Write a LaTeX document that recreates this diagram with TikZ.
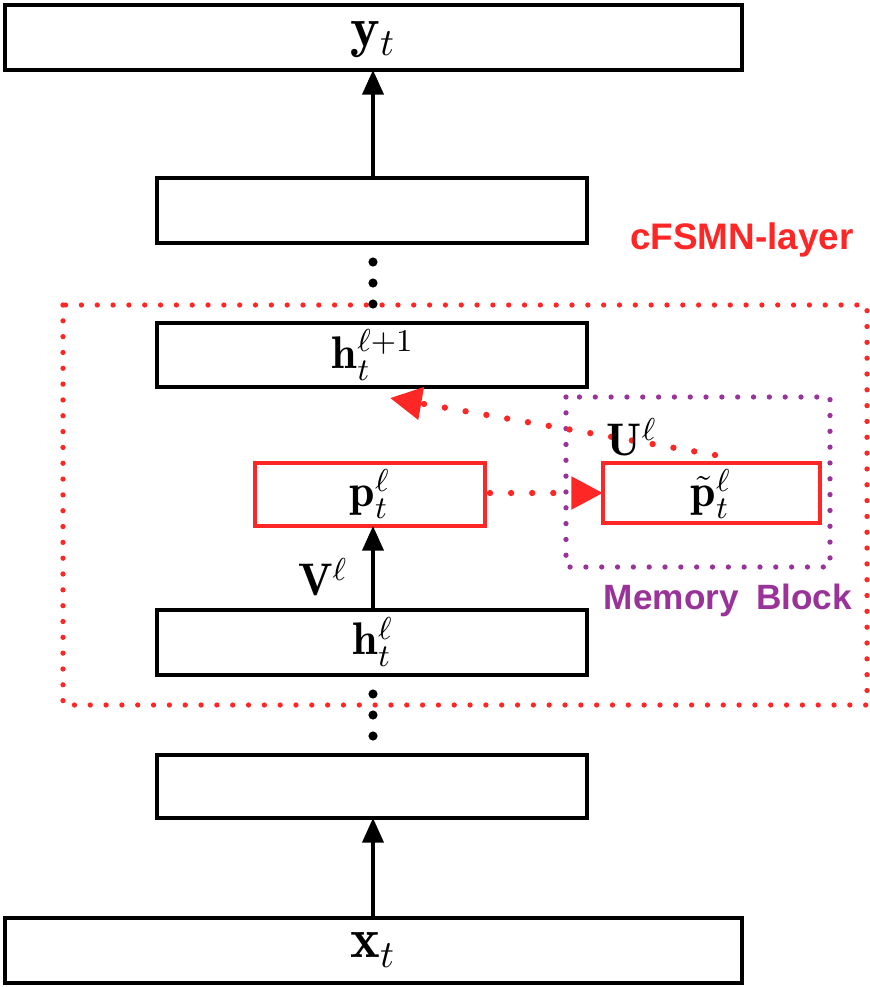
\documentclass[tikz,border=0pt]{standalone}
\usepackage{amsmath,amssymb,bm}
\usepackage{fontspec}
\newfontfamily\lsans{Liberation Sans}
\usetikzlibrary{arrows.meta}
\begin{document}
\begin{tikzpicture}[x=0.01cm,y=-0.01cm,
  box/.style={draw=black,line width=0.9pt},
  rbox/.style={draw=red!85!white,line width=0.9pt},
  lab/.style={font=\fontsize{13}{15}\selectfont,inner sep=0pt},
  big/.style={font=\fontsize{16}{18}\selectfont,inner sep=0pt},
  arr/.style={line width=1pt,-{Triangle[length=7pt,width=6pt]}},
  rdot/.style={red!85!white,line width=1.8pt,dash pattern=on 0pt off 6pt,line cap=round},
  rarr/.style={rdot,-{Triangle[length=9pt,width=9pt,line cap=butt,fill=red!85!white]}}]
\useasboundingbox (0,0) rectangle (870,987);
\draw[rdot,line width=1.5pt,dash pattern=on 0pt off 4.5pt] (63,305) rectangle (867,705);
\draw[violet!80!white,line width=1.5pt,line cap=round,dash pattern=on 0pt off 4.5pt] (566,397) rectangle (830,567);
\draw[box] (5,5) rectangle (742,70); \node[big] (y) at (373,40) {$\mathbf{y}_t$};
\draw[box] (157,178) rectangle (587,243); \coordinate (b2) at (373,178);
\draw[box] (157,323) rectangle (587,387); \node[lab] (h1) at (373,355) {$\mathbf{h}_t^{\ell+1}$};
\draw[rbox] (255,463) rectangle (485,526); \node[lab] (p) at (370,494) {$\mathbf{p}_t^{\ell}$};
\draw[rbox] (603,463) rectangle (820,523); \node[lab] (pt) at (711,494) {$\tilde{\mathbf{p}}_t^{\ell}$};
\draw[box] (157,610) rectangle (587,675); \node[lab] (h) at (373,642) {$\mathbf{h}_t^{\ell}$};
\draw[box] (157,755) rectangle (587,818);
\draw[box] (5,918) rectangle (742,983); \node[big] (x) at (373,950) {$\mathbf{x}_t$};
\coordinate (xt) at (373,918); \coordinate (b5) at (373,818);
\coordinate (ht) at (373,610); \coordinate (pb) at (373,526); \coordinate (yb) at (373,70);
\draw[arr] (b2) -- (yb);
\draw[arr] (xt) -- (b5);
\draw[arr] (ht) -- (pb);
\foreach \yy in {262,283,304,694,715,736} \fill (373,\yy) circle (1.3pt);
\coordinate (pr) at (490,493); \coordinate (pl) at (603,493);
\draw[rarr] (pr) -- (pl);
\coordinate (s) at (715,455); \coordinate (e) at (390,398);
\draw[rarr] (s) -- (e);
\node[lab] (V) at (323,577) {$\mathbf{V}^{\ell}$};
\node[lab] (U) at (632,437) {$\mathbf{U}^{\ell}$};
\node[font=\lsans\bfseries\fontsize{10.5}{12}\selectfont,text=red!85!white] (c) at (742,240) {cFSMN-layer};
\node[font=\lsans\bfseries\fontsize{10}{12}\selectfont,text=violet!80!white] (m) at (728,600) {Memory\enspace Block};
\end{tikzpicture}
\end{document}
